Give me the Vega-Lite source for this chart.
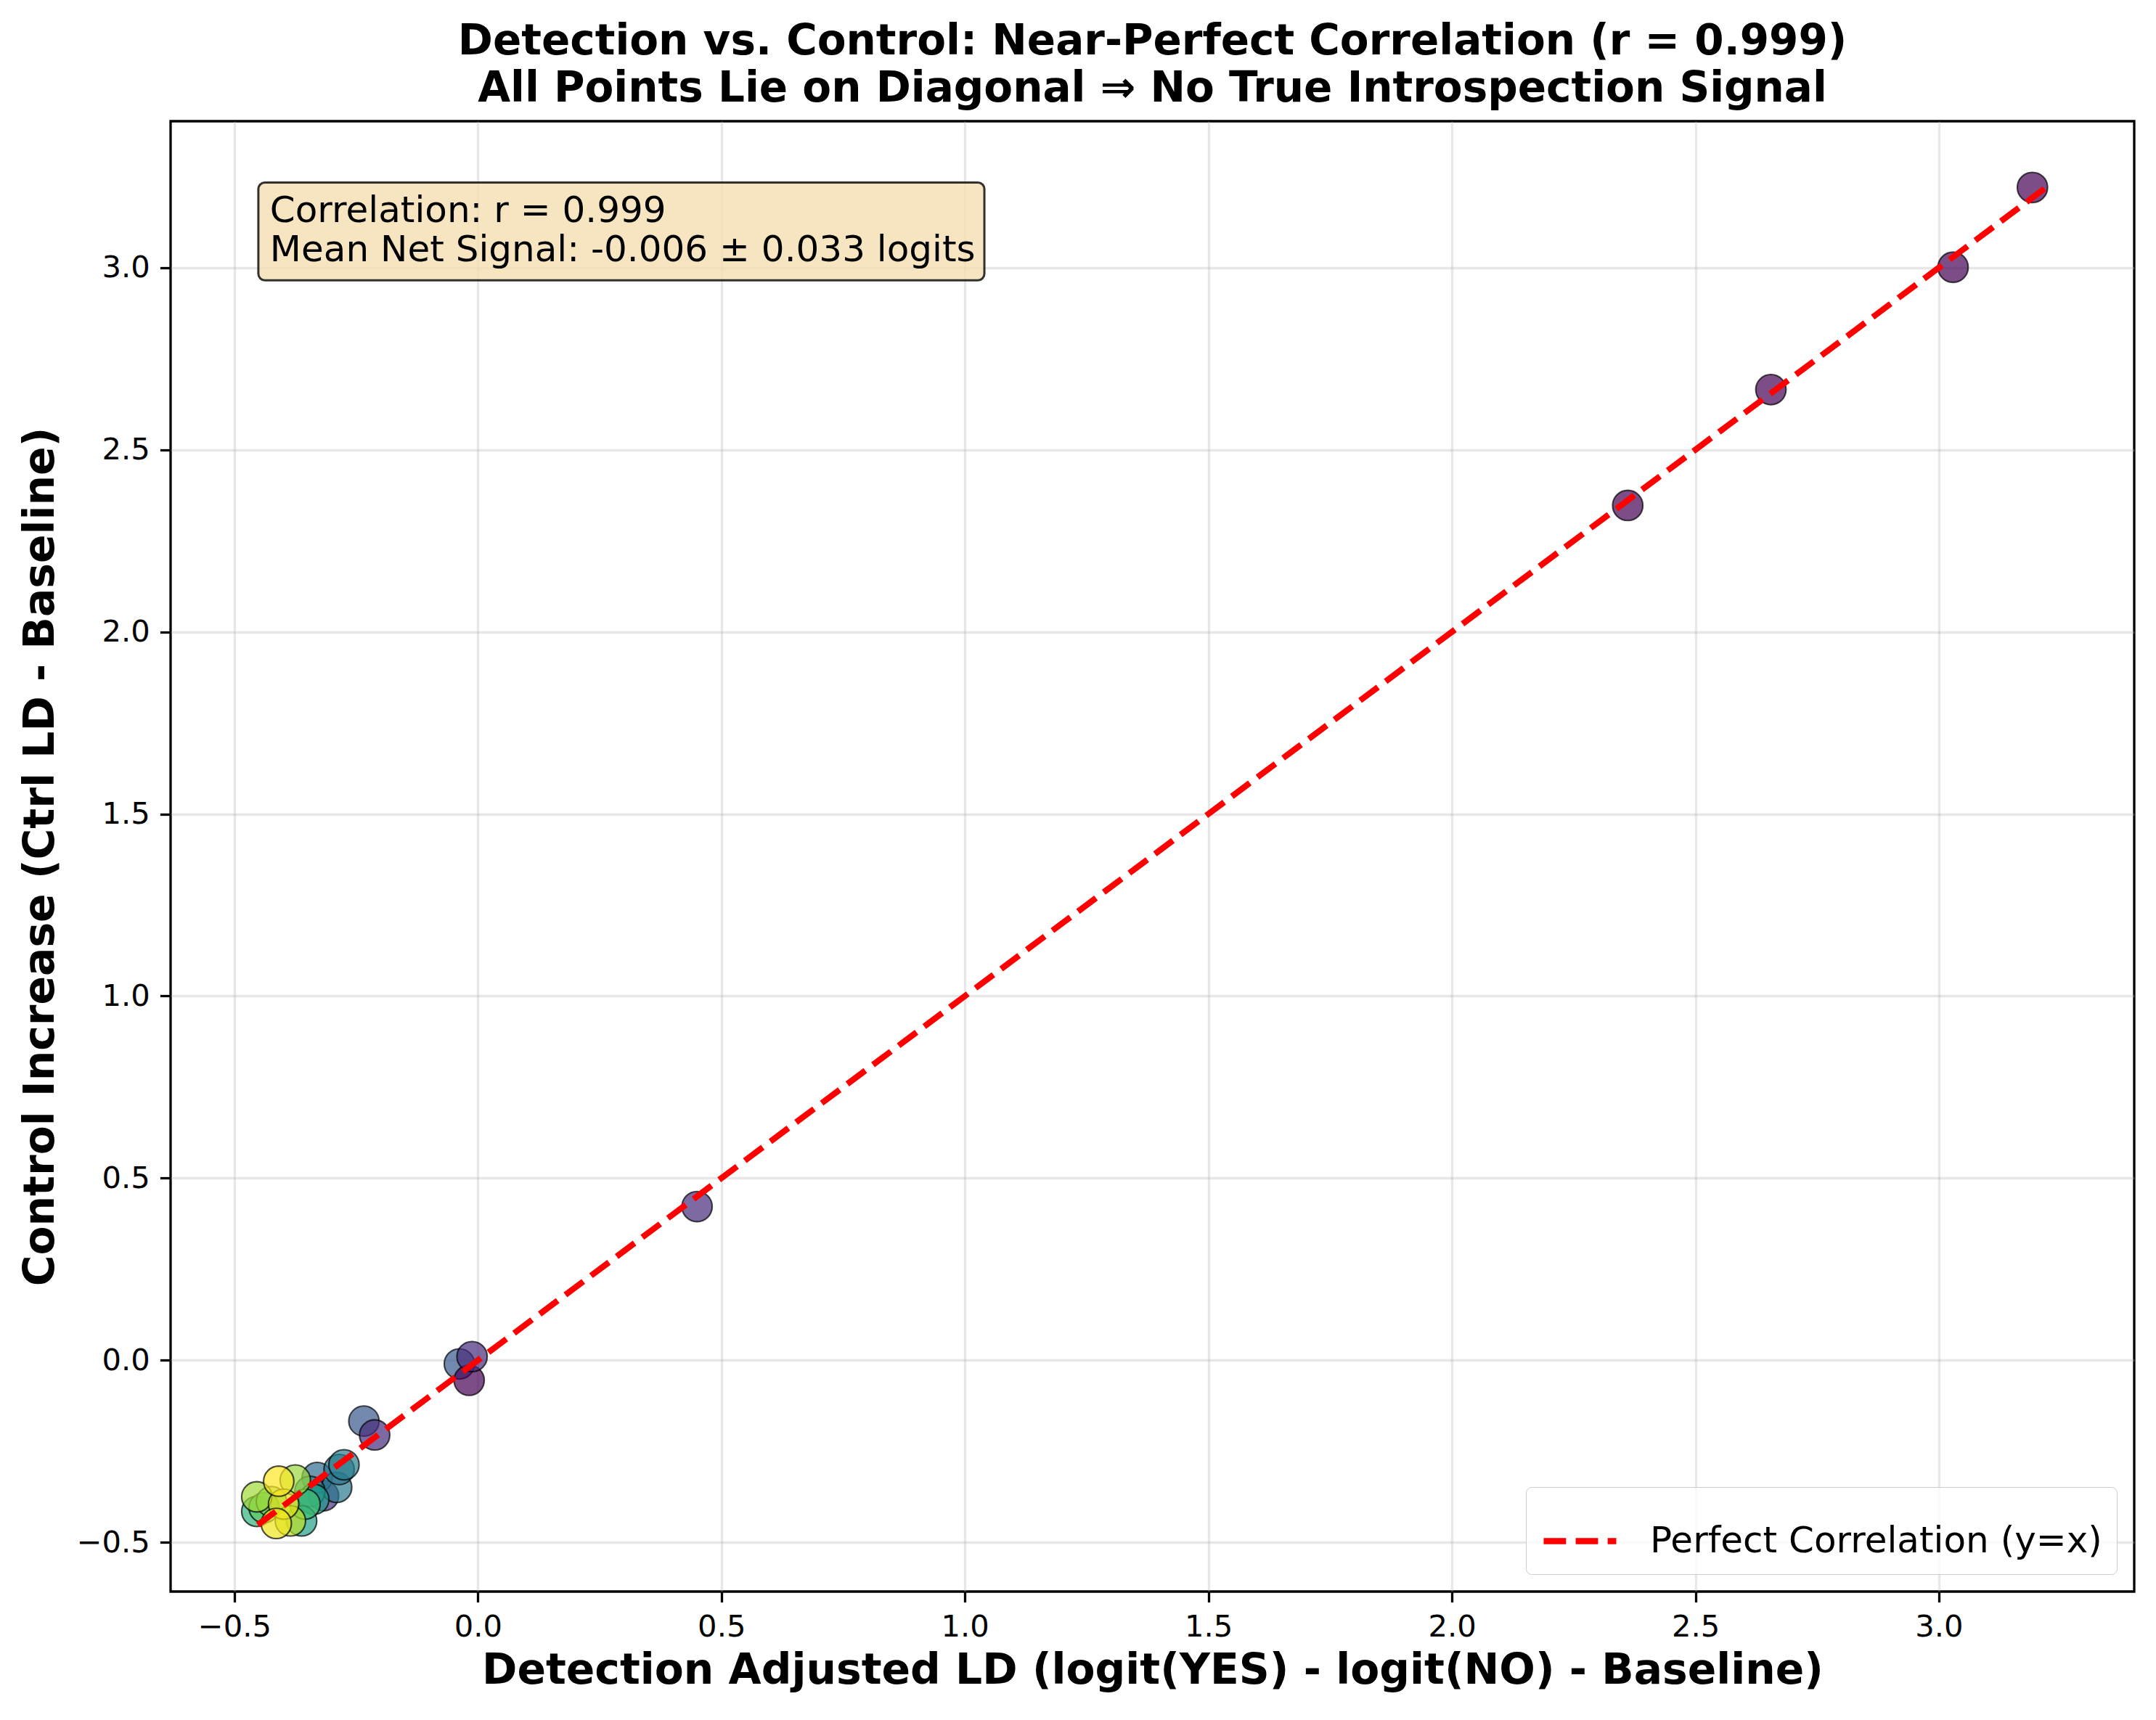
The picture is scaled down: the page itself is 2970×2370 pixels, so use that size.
{
  "$schema": "https://vega.github.io/schema/vega-lite/v6.json",
  "width": 2705,
  "height": 2026,
  "autosize": {"type": "none"},
  "padding": {"left": 235, "top": 167, "right": 30, "bottom": 177},
  "background": "white",
  "title": {
    "text": ["Detection vs. Control: Near-Perfect Correlation (r = 0.999)", "All Points Lie on Diagonal ⇒ No True Introspection Signal"],
    "font": "DejaVu Sans",
    "fontSize": 58,
    "fontWeight": "bold",
    "lineHeight": 65,
    "anchor": "middle",
    "color": "black",
    "offset": 15
  },
  "layer": [
    {
      "data": {"values": [
        {"x": 3.192, "y": 3.220, "c": 0.0},
        {"x": 3.029, "y": 3.001, "c": 0.0},
        {"x": 2.655, "y": 2.665, "c": 0.0},
        {"x": 2.361, "y": 2.347, "c": 0.0},
        {"x": 0.450, "y": 0.422, "c": 0.12},
        {"x": -0.038, "y": -0.010, "c": 0.27},
        {"x": -0.018, "y": -0.055, "c": 0.0},
        {"x": -0.012, "y": 0.010, "c": 0.12},
        {"x": -0.234, "y": -0.167, "c": 0.27},
        {"x": -0.212, "y": -0.205, "c": 0.12},
        {"x": -0.317, "y": -0.372, "c": 0.15},
        {"x": -0.330, "y": -0.322, "c": 0.35},
        {"x": -0.290, "y": -0.349, "c": 0.40},
        {"x": -0.285, "y": -0.300, "c": 0.38},
        {"x": -0.275, "y": -0.287, "c": 0.42},
        {"x": -0.345, "y": -0.360, "c": 0.48},
        {"x": -0.337, "y": -0.382, "c": 0.55},
        {"x": -0.362, "y": -0.441, "c": 0.58},
        {"x": -0.454, "y": -0.415, "c": 0.65},
        {"x": -0.355, "y": -0.395, "c": 0.70},
        {"x": -0.439, "y": -0.405, "c": 0.75},
        {"x": -0.424, "y": -0.388, "c": 0.80},
        {"x": -0.375, "y": -0.329, "c": 0.85},
        {"x": -0.454, "y": -0.375, "c": 0.86},
        {"x": -0.385, "y": -0.441, "c": 0.90},
        {"x": -0.399, "y": -0.395, "c": 0.95},
        {"x": -0.414, "y": -0.448, "c": 0.98},
        {"x": -0.409, "y": -0.332, "c": 1.0}
      ]},
      "mark": {"type": "point", "shape": "circle", "filled": true, "size": 1740, "fillOpacity": 0.7, "stroke": "black", "strokeOpacity": 0.7, "strokeWidth": 2.1},
      "encoding": {
        "x": {"field": "x", "type": "quantitative", "scale": {"domain": [-0.631, 3.401], "nice": false, "zero": false}, "axis": {"values": [-0.5, 0, 0.5, 1, 1.5, 2, 2.5, 3], "format": ".1f", "title": "Detection Adjusted LD (logit(YES) - logit(NO) - Baseline)"}},
        "y": {"field": "y", "type": "quantitative", "scale": {"domain": [-0.635, 3.402], "nice": false, "zero": false}, "axis": {"values": [-0.5, 0, 0.5, 1, 1.5, 2, 2.5, 3], "format": ".1f", "title": "Control Increase (Ctrl LD - Baseline)"}},
        "color": {"field": "c", "type": "quantitative", "scale": {"scheme": "viridis", "domain": [0, 1]}, "legend": null}
      }
    },
    {
      "data": {"values": [{"v": -0.452}, {"v": 3.22}]},
      "mark": {"type": "line", "color": "red", "strokeWidth": 8.3},
      "encoding": {
        "x": {"field": "v", "type": "quantitative", "title": "Detection Adjusted LD (logit(YES) - logit(NO) - Baseline)"},
        "y": {"field": "v", "type": "quantitative", "title": "Control Increase (Ctrl LD - Baseline)"},
        "strokeDash": {
          "datum": "Perfect Correlation (y=x)",
          "type": "nominal",
          "scale": {"range": [[30.8, 13.3]]},
          "legend": {
            "title": null,
            "orient": "bottom-right",
            "offset": 24,
            "padding": 20,
            "fillColor": "rgba(255,255,255,0.8)",
            "strokeColor": "#cccccc",
            "cornerRadius": 8,
            "symbolType": "stroke",
            "symbolStrokeColor": "red",
            "symbolStrokeWidth": 8.3,
            "symbolSize": 10000,
            "labelFontSize": 50,
            "labelFont": "DejaVu Sans",
            "labelOffset": 42,
            "labelColor": "black",
            "labelLimit": 0
          }
        }
      }
    },
    {
      "data": {"values": [{}]},
      "mark": {"type": "rect", "fill": "#f5deb3", "fillOpacity": 0.8, "stroke": "black", "strokeOpacity": 0.8, "strokeWidth": 3, "cornerRadius": 9},
      "encoding": {
        "x": {"datum": -0.4508},
        "x2": {"datum": 1.040},
        "y": {"datum": 3.2337},
        "y2": {"datum": 2.965}
      }
    },
    {
      "data": {"values": [{}]},
      "mark": {"type": "text", "align": "left", "baseline": "alphabetic", "fontSize": 50, "font": "DejaVu Sans", "lineHeight": 54, "color": "black"},
      "encoding": {
        "x": {"datum": -0.427},
        "y": {"datum": 3.1255},
        "text": {"value": ["Correlation: r = 0.999", "Mean Net Signal: -0.006 ± 0.033 logits"]}
      }
    }
  ],
  "config": {
    "font": "DejaVu Sans",
    "view": {"stroke": "black", "strokeWidth": 3.3},
    "axis": {
      "domain": false,
      "grid": true,
      "gridColor": "#b0b0b0",
      "gridOpacity": 0.3,
      "gridWidth": 3.3,
      "tickColor": "black",
      "tickSize": 14.6,
      "tickWidth": 3.3,
      "labelFontSize": 41.7,
      "labelColor": "black",
      "labelFont": "DejaVu Sans",
      "labelPadding": 14,
      "titleFont": "DejaVu Sans",
      "titleFontSize": 58.3,
      "titleFontWeight": "bold",
      "titleColor": "black"
    },
    "axisX": {"titlePadding": 10},
    "axisY": {"titlePadding": 20}
  }
}
